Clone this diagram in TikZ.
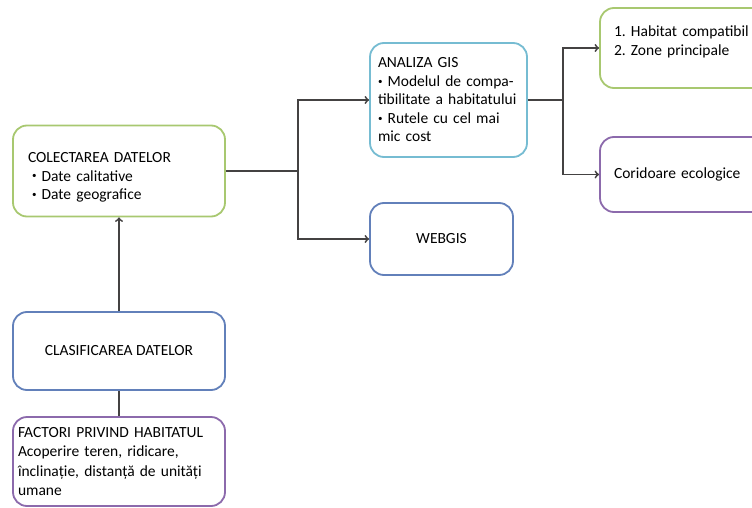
\documentclass[tikz,border=0pt]{standalone}
\usepackage{fontspec}
\setmainfont{Carlito}
\usetikzlibrary{positioning}
\usetikzlibrary{arrows}
\definecolor{lgreen}{RGB}{168,200,112}
\definecolor{lblue}{RGB}{118,188,210}
\definecolor{mblue}{RGB}{98,128,186}
\definecolor{lpurple}{RGB}{140,106,172}
\definecolor{wire}{RGB}{68,66,66}
\newcommand{\bul}{\raisebox{2pt}{\fontsize{9}{9}\selectfont\textbullet}\ }
\frenchspacing

\begin{document}
\begin{tikzpicture}[x=1pt, y=-1pt,
    box/.style={draw, rounded corners=14pt, line width=1.8pt, fill=white,
        align=left, inner ysep=0pt, font=\fontsize{15.5}{18.5}\selectfont},
    conn/.style={draw=wire, line width=1.8pt},
    >=to]

\clip (0,0) rectangle (752,508);

% Left column
\node[box, draw=lgreen, minimum width=212pt, minimum height=91pt, text width=182pt,
    text height=37pt, text depth=54pt]
    (colect) at (119,171)
    {COLECTAREA DATELOR\\ \hspace*{4pt}\bul Date calitative\\ \hspace*{4pt}\bul Date geografice};
\node[box, draw=mblue, align=center, minimum width=212pt, minimum height=78pt]
    (clasif) at (119,351) {CLASIFICAREA DATELOR};
\node[box, draw=lpurple, minimum width=212pt, minimum height=89pt, text width=202pt,
    font=\fontsize{15.5}{19.3}\selectfont]
    (factori) at (119,461.5)
    {FACTORI PRIVIND HABITATUL\\ Acoperire teren, ridicare,\\ înclinație, distanță de unități\\ umane};

% Middle column
\node[box, draw=lblue, minimum width=157pt, minimum height=114pt, text width=141pt]
    (analiza) at (448.5,100)
    {ANALIZA GIS\\ \bul Modelul de compa-\\ \mbox{tibilitate a habitatului}\\ \bul Rutele cu cel mai\\ mic cost};
\node[box, draw=mblue, align=center, minimum width=143pt, minimum height=72pt]
    (webgis) at (441.5,239) {WEBGIS};

% Right column (cut by the page edge)
\node[box, draw=lgreen, minimum width=190pt, minimum height=80pt, text width=162pt,
    text height=29pt, text depth=51pt]
    (habitat) at (695,48) {1. Habitat compatibil\\ 2. Zone principale};
\node[box, draw=lpurple, minimum width=190pt, minimum height=75pt, text width=162pt]
    (corid) at (695,174.5) {Coridoare ecologice};

% Connectors
\coordinate (split1) at (298,171);
\coordinate (split2) at (563,100);

\draw[conn] (colect.east) -- (split1);
\draw[conn, ->] (split1) |- (analiza.west);
\draw[conn, ->] (split1) |- (webgis.west);

\draw[conn] (analiza.east) -- (split2);
\draw[conn, ->] (split2) |- (habitat.west);
\draw[conn, ->] (split2) |- (corid.west);

\draw[conn, ->] (clasif.north) -- (colect.south);
\draw[conn] (factori.north) -- (clasif.south);

\end{tikzpicture}
\end{document}
